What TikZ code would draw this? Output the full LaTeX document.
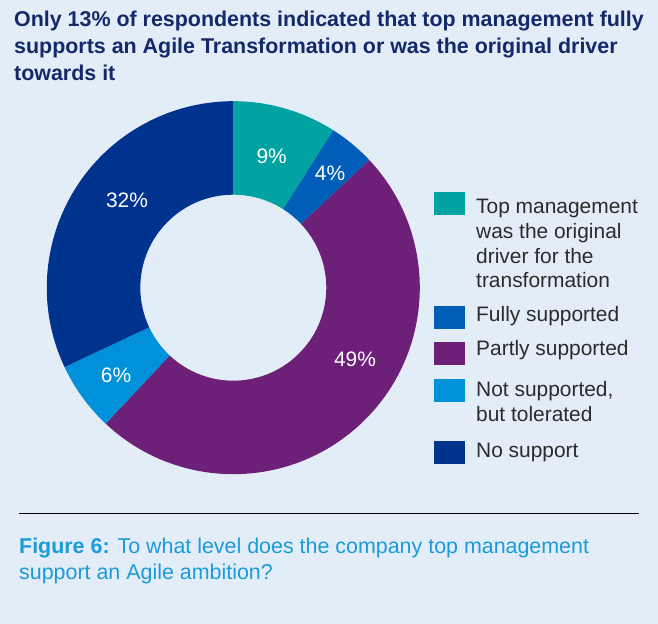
\documentclass[tikz,border=0pt]{standalone}
\usepackage{fontspec}
\setmainfont{Liberation Sans}
\definecolor{bgblue}{HTML}{E3EDF8}
\definecolor{titlenavy}{HTML}{13296A}
\definecolor{legendgray}{HTML}{2B2B2B}
\definecolor{captionblue}{HTML}{1A9BDB}
\definecolor{segteal}{HTML}{00A3A1}
\definecolor{segblue}{HTML}{005EB8}
\definecolor{segpurple}{HTML}{6D2077}
\definecolor{seglight}{HTML}{0091DA}
\definecolor{segnavy}{HTML}{00338D}
\begin{document}
\begin{tikzpicture}[x=1bp,y=1bp,
  pct/.style={text=white,inner sep=0pt,font=\fontsize{21}{25}\selectfont},
  legtext/.style={anchor=base west,align=left,inner sep=0pt,text=legendgray,font=\fontsize{21}{25}\selectfont},
  swatch/.style={anchor=north west,inner sep=0pt,minimum width=31bp,minimum height=22.7bp},
]
%%
\fill[bgblue] (0,0) rectangle (658,624);
\useasboundingbox (0,0) rectangle (658,624);
% multi-line nodes sit on the baseline of their last line
\node (title) at (14bp,543bp) [anchor=base west,align=left,inner sep=0pt,text=titlenavy,font=\fontsize{21.5}{27.5}\selectfont\bfseries] {Only 13\% of respondents indicated that top management fully\\supports an Agile Transformation or was the original driver\\towards it};
%
\coordinate (centre) at (233.3bp,336.3bp);
\fill[segteal,shift={(centre)}] (90:186.5) arc[start angle=90,end angle=57.6,radius=186.5] -- (57.6:93) arc[start angle=57.6,end angle=90,radius=93] -- cycle;
\fill[segblue,shift={(centre)}] (57.6:186.5) arc[start angle=57.6,end angle=43.2,radius=186.5] -- (43.2:93) arc[start angle=43.2,end angle=57.6,radius=93] -- cycle;
\fill[segpurple,shift={(centre)}] (43.2:186.5) arc[start angle=43.2,end angle=-133.2,radius=186.5] -- (-133.2:93) arc[start angle=-133.2,end angle=43.2,radius=93] -- cycle;
\fill[seglight,shift={(centre)}] (-133.2:186.5) arc[start angle=-133.2,end angle=-154.8,radius=186.5] -- (-154.8:93) arc[start angle=-154.8,end angle=-133.2,radius=93] -- cycle;
\fill[segnavy,shift={(centre)}] (205.2:186.5) arc[start angle=205.2,end angle=90,radius=186.5] -- (90:93) arc[start angle=90,end angle=205.2,radius=93] -- cycle;
%
\node (pct_9) at (271.7bp,467.3bp) [pct] {9\%};
\node (pct_4) at (330bp,451bp) [pct] {4\%};
\node (pct_49) at (355bp,265bp) [pct] {49\%};
\node (pct_6) at (116bp,249bp) [pct] {6\%};
\node (pct_32) at (127bp,424bp) [pct] {32\%};
%
\node (key_top) at (434bp,432bp) [swatch,fill=segteal] {};
\node (key_full) at (434bp,318bp) [swatch,fill=segblue] {};
\node (key_part) at (434bp,282bp) [swatch,fill=segpurple] {};
\node (key_tol) at (434bp,245bp) [swatch,fill=seglight] {};
\node (key_none) at (434bp,183bp) [swatch,fill=segnavy] {};
\node (text_top) at (476bp,336bp) [legtext] {Top management\\was the original\\driver for the\\transformation};
\node (text_full) at (476bp,302.3bp) [legtext] {Fully supported};
\node (text_part) at (476bp,268bp) [legtext] {Partly supported};
\node (text_tol) at (476bp,202.3bp) [legtext] {Not supported,\\but tolerated};
\node (text_none) at (476bp,166bp) [legtext] {No support};
%
\coordinate (rule_l) at (18.7bp,110.7bp);
\coordinate (rule_r) at (639bp,110.7bp);
\draw [black,line width=1.2bp] (rule_l) -- (rule_r);
\node (caption) at (19bp,44bp) [anchor=base west,align=left,inner sep=0pt,text=captionblue,font=\fontsize{21.5}{27}\selectfont] {\textbf{Figure 6:} To what level does the company top management\\support an Agile ambition?};
%
\end{tikzpicture}
\end{document}
